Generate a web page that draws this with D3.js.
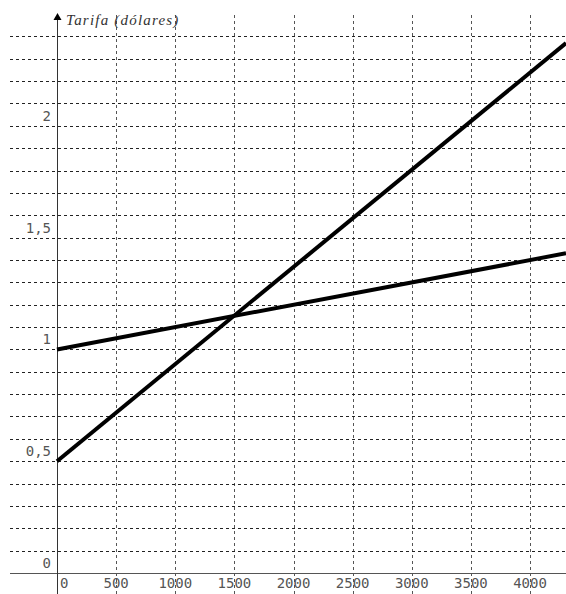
<!DOCTYPE html>
<html><head><meta charset="utf-8">
<script src="https://cdn.jsdelivr.net/npm/d3@7"></script>
<style>body{margin:0;background:#fff}svg{display:block}</style>
</head><body>
<script>
const xTicks = [0,500,1000,1500,2000,2500,3000,3500,4000];
const yTickLabels = [{v:0,t:"0"},{v:0.5,t:"0,5"},{v:1,t:"1"},{v:1.5,t:"1,5"},{v:2,t:"2"}];
const yGrid = [0.1,0.2,0.3,0.4,0.5,0.6,0.7,0.8,0.9,1.0,1.1,1.2,1.3,1.4,1.5,1.6,1.7,1.8,1.9,2.0,2.1,2.2,2.3,2.4];
const lineX = [0, 4304];
const seriesA = [1.0, 1.43];
const seriesB = [0.5, 2.37];
const yTitle = "Tarifa (dólares)";

const W=566,H=594;
const svg=d3.select("body").append("svg").attr("width",W).attr("height",H);
const x=d3.scaleLinear().domain([0,4304]).range([57,566]);
const y=d3.scaleLinear().domain([0,2.4]).range([573,36.4]);

svg.append("g").selectAll("line").data(xTicks.filter(d=>d>0)).join("line")
  .attr("x1",d=>Math.round(x(d))+0.5).attr("x2",d=>Math.round(x(d))+0.5)
  .attr("y1",15).attr("y2",H)
  .attr("stroke","#555").attr("stroke-dasharray","3,3");
svg.append("g").selectAll("line").data(yGrid).join("line")
  .attr("x1",10).attr("x2",W)
  .attr("y1",d=>Math.round(y(d))+0.5).attr("y2",d=>Math.round(y(d))+0.5)
  .attr("stroke","#222").attr("stroke-dasharray","3,3");

svg.append("line").attr("x1",10).attr("x2",W).attr("y1",Math.round(y(0))+0.5).attr("y2",Math.round(y(0))+0.5).attr("stroke","#555");
svg.append("line").attr("x1",57.5).attr("x2",57.5).attr("y1",18).attr("y2",H).attr("stroke","#333");
svg.append("path").attr("d","M57.5,13 L53.5,20 L61.5,20 Z").attr("fill","#000");

svg.append("g").selectAll("text").data(xTicks).join("text")
  .attr("x",d=>d===0?60:x(d)).attr("y",588)
  .attr("text-anchor",d=>d===0?"start":"middle")
  .attr("font-family","DejaVu Sans Mono").attr("font-size",14).attr("fill","#555")
  .text(d=>d);
svg.append("g").selectAll("text").data(yTickLabels).join("text")
  .attr("x",51).attr("y",d=>y(d.v)-5).attr("text-anchor","end")
  .attr("font-family","DejaVu Sans Mono").attr("font-size",14).attr("fill","#555")
  .text(d=>d.t);
svg.append("text").attr("x",66).attr("y",25).attr("font-family","Liberation Serif").attr("font-style","italic")
  .attr("font-size",15).attr("letter-spacing",1.2).attr("fill","#333").text(yTitle);

const line=d3.line().x((d,i)=>x(lineX[i])).y(d=>y(d));
[seriesA,seriesB].forEach(s=>{
  svg.append("path").attr("d",line(s)).attr("fill","none").attr("stroke","#000").attr("stroke-width",4);
});
</script>
</body></html>
